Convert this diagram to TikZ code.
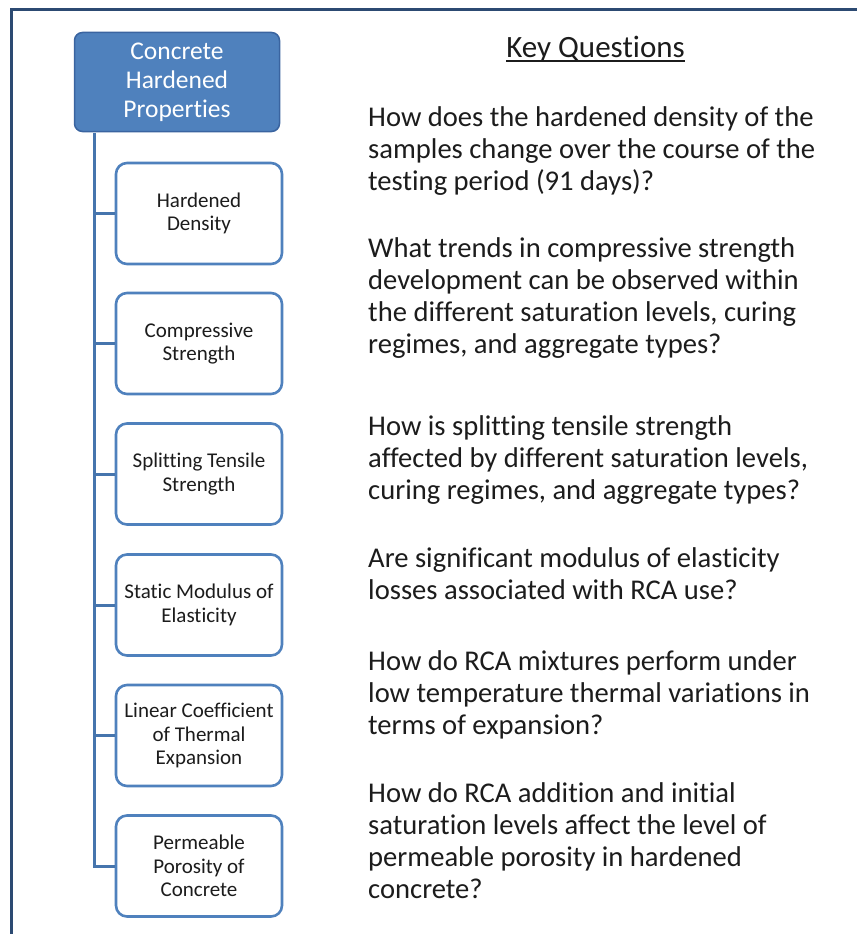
\documentclass[tikz,border=0pt]{standalone}
\usepackage{fontspec}
\setmainfont{Carlito}[Ligatures=NoCommon]
\definecolor{boxblue}{HTML}{4F81BD}
\definecolor{boxedge}{HTML}{3A64A0}
\definecolor{framecol}{HTML}{2C4A72}
\definecolor{linkcol}{HTML}{4675AD}
\definecolor{txt}{HTML}{1C1C1C}
\begin{document}
\begin{tikzpicture}[x=1pt,y=-1pt,
  topbox/.style={draw=boxedge,line width=1.5pt,fill=boxblue,rounded corners=8pt,minimum width=205pt,minimum height=99pt,align=center,text=white,font=\fontsize{25.5}{29}\selectfont,inner sep=0pt},
  childbox/.style={draw=boxblue,line width=2.6pt,fill=white,rounded corners=11pt,minimum width=166pt,minimum height=101pt,align=center,text=txt,font=\fontsize{21}{23.5}\selectfont,inner sep=0pt},
  link/.style={draw=linkcol,line width=3pt},
  qline/.style={anchor=base west,text=txt,font=\fontsize{28.6}{32}\selectfont,inner sep=0pt}]
\useasboundingbox (0,0) rectangle (857,934);
\fill[white] (0,0) rectangle (857,934);
\draw[framecol,line width=3pt] (11.5,934) -- (11.5,9.5) -- (857,9.5);
\node[topbox] (top) at (177,82) {Concrete\\Hardened\\Properties};
\node[childbox] (c1) at (199,213.5) {Hardened\\Density};
\node[childbox] (c2) at (199,343.5) {Compressive\\Strength};
\node[childbox] (c3) at (199,474) {Splitting Tensile\\Strength};
\node[childbox] (c4) at (199,605) {Static Modulus of\\Elasticity};
\node[childbox] (c5) at (199,735.5) {Linear Coefficient\\of Thermal\\Expansion};
\node[childbox] (c6) at (199,866) {Permeable\\Porosity of\\Concrete};
\coordinate (t) at ([xshift=20.5pt,yshift=-0.75pt]top.south west);
\draw[link] (t) |- (c6.west);
\foreach \i in {1,...,5} \draw[link] (c\i.west) -- (c\i.west -| t);
\node[anchor=base,text=txt,font=\fontsize{31}{36}\selectfont,inner sep=0pt] (kq) at (595.5,57.5) {Key Questions};
\draw[txt,line width=1.8pt] ([yshift=-3.5pt]kq.base west) -- ([yshift=-3.5pt]kq.base east);
\node[qline] (q1a) at (368,126) {How does the hardened density of the};
\node[qline] (q1b) at (368,158) {samples change over the course of the};
\node[qline] (q1c) at (368,190) {testing period (91 days)?};
\node[qline] (q2a) at (368,257) {What trends in compressive strength};
\node[qline] (q2b) at (368,289) {development can be observed within};
\node[qline] (q2c) at (368,321) {the different saturation levels, curing};
\node[qline] (q2d) at (368,353) {regimes, and aggregate types?};
\node[qline] (q3a) at (368,435) {How is splitting tensile strength};
\node[qline] (q3b) at (368,467) {affected by different saturation levels,};
\node[qline] (q3c) at (368,499) {curing regimes, and aggregate types?};
\node[qline] (q4a) at (368,567) {Are significant modulus of elasticity};
\node[qline] (q4b) at (368,599) {losses associated with RCA use?};
\node[qline] (q5a) at (368,670) {How do RCA mixtures perform under};
\node[qline] (q5b) at (368,702) {low temperature thermal variations in};
\node[qline] (q5c) at (368,734) {terms of expansion?};
\node[qline] (q6a) at (368,802) {How do RCA addition and initial};
\node[qline] (q6b) at (368,834) {saturation levels affect the level of};
\node[qline] (q6c) at (368,866) {permeable porosity in hardened};
\node[qline] (q6d) at (368,898) {concrete?};
\end{tikzpicture}
\end{document}
